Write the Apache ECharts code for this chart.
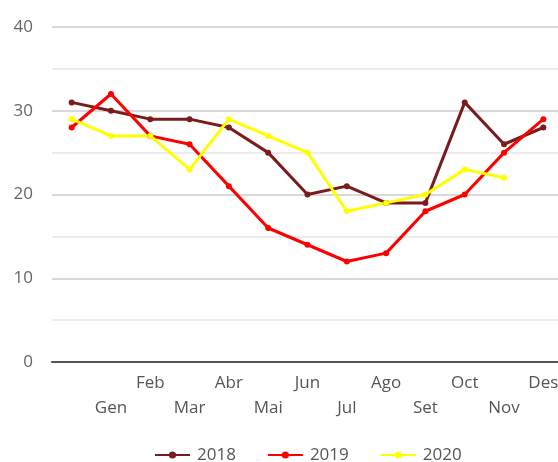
<!DOCTYPE html>
<html>
<head>
<meta charset="utf-8">
<script src="https://cdn.jsdelivr.net/npm/echarts@6/dist/echarts.min.js"></script>
<style>
html,body{margin:0;padding:0;background:#fff;}
#chart{width:558px;height:462px;}
</style>
</head>
<body>
<div id="chart"></div>
<script>
var categories = ['', 'Gen', 'Feb', 'Mar', 'Abr', 'Mai', 'Jun', 'Jul', 'Ago', 'Set', 'Oct', 'Nov', 'Des'];
var seriesNames = ['2018', '2019', '2020'];
var values2018 = [31, 30, 29, 29, 28, 25, 20, 21, 19, 19, 31, 26, 28];
var values2019 = [28, 32, 27, 26, 21, 16, 14, 12, 13, 18, 20, 25, 29];
var values2020 = [29, 27, 27, 23, 29, 27, 25, 18, 19, 20, 23, 22, null];
var yTicks = [0, 10, 20, 30, 40];

var colors = ['#7b1c1c', '#ff0000', '#ffff00'];
var font = 'Open Sans';
var chart = echarts.init(document.getElementById('chart'), null, {renderer: 'canvas'});

function mk(name, data, color) {
  return {
    name: name, type: 'line', data: data,
    symbol: 'circle', symbolSize: 6,
    itemStyle: {color: color},
    lineStyle: {color: color, width: 3},
    connectNulls: false,
    animation: false
  };
}

chart.setOption({
  animation: false,
  textStyle: {fontFamily: font},
  grid: {left: 52, width: 511, top: 27, height: 335, containLabel: false, outerBoundsMode: 'none'},
  legend: {
    top: 441, left: 149,
    itemWidth: 35, itemHeight: 9, itemGap: 31,
    textStyle: {fontFamily: font, fontSize: 17, lineHeight: 18, color: '#555', padding: [0, 0, 0, 2]},
    data: seriesNames
  },
  xAxis: {
    type: 'category', data: categories, boundaryGap: true,
    axisLine: {show: true, lineStyle: {color: '#555', width: 2}},
    axisTick: {show: false},
    axisLabel: {
      interval: 0, margin: 9, fontSize: 17, color: '#555', fontFamily: font,
      lineHeight: 25, verticalAlign: 'top',
      formatter: function (v, i) { return (i % 2 === 1) ? '\n' + v : v; }
    },
    splitLine: {show: false}
  },
  yAxis: {
    type: 'value', min: yTicks[0], max: yTicks[yTicks.length - 1], interval: 10,
    axisLine: {show: false}, axisTick: {show: false},
    axisLabel: {margin: 19, fontSize: 17, color: '#666', fontFamily: font},
    splitLine: {show: true, lineStyle: {color: '#d9d9d9', width: 2}},
    minorTick: {show: false, splitNumber: 2},
    minorSplitLine: {show: true, lineStyle: {color: '#ececec', width: 2}}
  },
  series: [
    mk(seriesNames[0], values2018, colors[0]),
    mk(seriesNames[1], values2019, colors[1]),
    mk(seriesNames[2], values2020, colors[2])
  ]
});
</script>
</body>
</html>
